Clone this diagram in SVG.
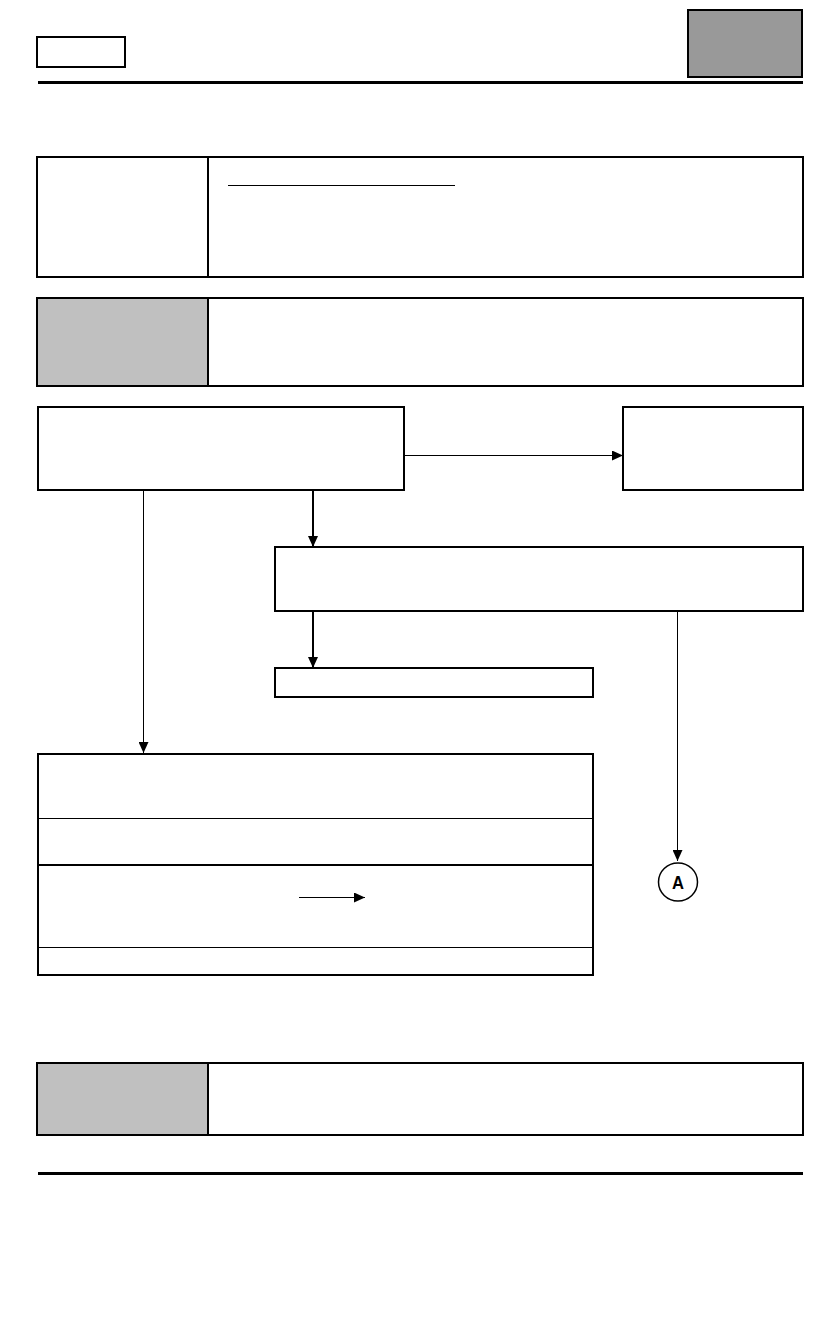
<svg xmlns="http://www.w3.org/2000/svg" width="840" height="1320" viewBox="0 0 840 1320">
  <style>
    rect, line { shape-rendering: crispEdges; }
    .box { fill: #ffffff; stroke: #000000; stroke-width: 1.5; }
    .heavy { fill: #ffffff; stroke: #000000; stroke-width: 2; }
    .grey { fill: #c0c0c0; stroke: #000000; stroke-width: 2; }
    .dark { fill: #999999; stroke: #000000; stroke-width: 2.5; }
    .rule { stroke: #000000; stroke-width: 3; }
    .thin { stroke: #000000; stroke-width: 1; fill: none; }
    .thick { stroke: #000000; stroke-width: 2; fill: none; }
    .div { stroke: #000000; stroke-width: 2; }
    .lbl { font-family: "Liberation Sans", Arial, sans-serif; font-weight: bold; font-size: 19px; fill: #000000; }
  </style>
  <defs>
    <marker id="ah" markerUnits="userSpaceOnUse" markerWidth="11" markerHeight="10" viewBox="0 0 11 10" refX="11" refY="5" orient="auto">
      <path d="M0,0 L11,5 L0,10 z" fill="#000000"/>
    </marker>
  </defs>
  <rect width="840" height="1320" fill="#ffffff"/>

  <g id="header">
    <rect class="heavy" x="37" y="37" width="88" height="30"/>
    <rect class="dark" x="688" y="10" width="114" height="67"/>
    <line class="rule" x1="38" y1="82" x2="803" y2="82"/>
  </g>

  <g id="info-box">
    <rect class="heavy" x="37" y="157" width="766" height="120"/>
    <line class="div" x1="208" y1="157" x2="208" y2="277"/>
    <line class="thin" x1="228" y1="185.5" x2="455" y2="185.5"/>
  </g>

  <g id="grey-box-1">
    <rect class="heavy" x="37" y="298" width="766" height="88"/>
    <rect class="grey" x="37" y="298" width="171" height="88"/>
  </g>

  <g id="node-start">
    <rect class="box" x="38" y="407" width="366" height="83"/>
  </g>

  <g id="node-right">
    <rect class="box" x="623" y="407" width="180" height="83"/>
  </g>

  <g id="node-middle">
    <rect class="box" x="275" y="547" width="528" height="64"/>
  </g>

  <g id="node-small">
    <rect class="box" x="275" y="668" width="318" height="29"/>
  </g>

  <g id="node-table">
    <rect class="box" x="38" y="754" width="555" height="221"/>
    <line class="thin" x1="38" y1="818.5" x2="593" y2="818.5"/>
    <line stroke="#000000" stroke-width="2" x1="38" y1="865" x2="593" y2="865"/>
    <line class="thin" x1="38" y1="947.5" x2="593" y2="947.5"/>
    <line class="thin" x1="299" y1="897.5" x2="365" y2="897.5" marker-end="url(#ah)"/>
  </g>

  <g id="node-A">
    <ellipse cx="678" cy="882" rx="19.5" ry="19" fill="#ffffff" stroke="#000000" stroke-width="1.5"/>
    <text class="lbl" x="678" y="889" text-anchor="middle" textLength="12" lengthAdjust="spacingAndGlyphs">A</text>
  </g>

  <g id="connectors">
    <line class="thin" x1="404" y1="455.5" x2="623" y2="455.5" marker-end="url(#ah)"/>
    <line class="thick" x1="313" y1="490" x2="313" y2="547" marker-end="url(#ah)"/>
    <line class="thick" x1="313" y1="611" x2="313" y2="668" marker-end="url(#ah)"/>
    <line class="thin" x1="143.5" y1="490" x2="143.5" y2="753" marker-end="url(#ah)"/>
    <line class="thin" x1="677.5" y1="611" x2="677.5" y2="861" marker-end="url(#ah)"/>
  </g>

  <g id="grey-box-2">
    <rect class="heavy" x="37" y="1063" width="766" height="72"/>
    <rect class="grey" x="37" y="1063" width="171" height="72"/>
  </g>

  <g id="footer">
    <line class="rule" x1="38" y1="1173" x2="803" y2="1173"/>
  </g>
</svg>
